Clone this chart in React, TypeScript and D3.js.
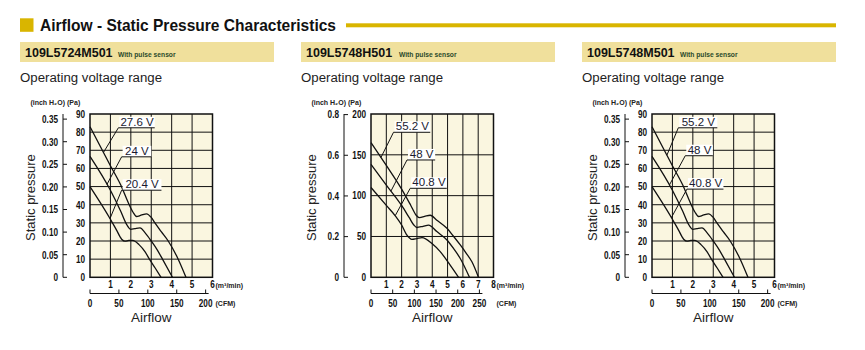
import * as d3 from 'd3'

// Pa per inch of water
const PA_PER_INCH = 249.09
// CFM per m³/min
const CFM_PER_M3 = 35.3147

const models = ['109L5724M501', '109L5748H501', '109L5748M501']
const voltagesA = ['27.6 V', '24 V', '20.4 V']
const voltagesB = ['55.2 V', '48 V', '40.8 V']

// [airflow m³/min, static pressure Pa]
const curve5724Hi: [number, number][] = [[0, 83], [1, 61.5], [1.5, 51], [1.88, 41], [2.1, 36], [2.28, 33.5], [2.5, 34.2], [2.77, 35], [3.0, 33], [3.18, 30], [3.5, 25], [3.83, 20], [4.32, 10], [4.7, 0]]
const curve5724Mid: [number, number][] = [[0, 66.7], [1, 48], [1.5, 36.5], [1.8, 29], [2.0, 26.4], [2.2, 26.8], [2.45, 27.2], [2.7, 24.5], [3.0, 20], [3.3, 15], [3.55, 10], [4.04, 0]]
const curve5724Lo: [number, number][] = [[0, 50], [1, 32], [1.3, 26], [1.55, 21], [1.71, 19.9], [1.9, 20.3], [2.09, 20.4], [2.4, 18], [2.7, 14], [2.91, 10], [3.2, 5], [3.48, 0]]

const curveH501Hi: [number, number][] = [[0, 165], [1, 137], [2, 108], [2.6, 88], [2.95, 76], [3.17, 73], [3.5, 74.5], [3.87, 76], [4.3, 70], [4.96, 60], [5.4, 50], [5.83, 39.6], [6.2, 30], [6.59, 19], [7.02, 0]]
const curveH501Mid: [number, number][] = [[0, 138.4], [1, 113], [2, 88], [2.5, 73], [2.8, 64], [3.0, 61], [3.4, 62.5], [3.76, 64], [4.3, 56], [4.96, 45.7], [5.4, 35], [5.83, 23], [6.43, 0]]
const curveH501Lo: [number, number][] = [[0, 110], [1, 88], [1.6, 75], [2.0, 64], [2.3, 53], [2.5, 48.5], [2.67, 46.5], [3.0, 47.5], [3.33, 48.6], [4.0, 41], [4.52, 31.4], [5.17, 15], [5.72, 0]]

const curveM501Hi: [number, number][] = [[0, 83], [1, 61.5], [1.5, 51], [1.88, 41], [2.1, 36], [2.28, 33.5], [2.5, 34.2], [2.77, 35], [3.0, 33], [3.18, 30], [3.5, 25], [3.83, 20], [4.32, 10], [4.7, 0]]
const curveM501Mid: [number, number][] = [[0, 66.7], [1, 48], [1.5, 36.5], [1.8, 29], [2.0, 26.4], [2.2, 26.8], [2.45, 27.2], [2.7, 24.5], [3.0, 20], [3.3, 15], [3.55, 10], [4.04, 0]]
const curveM501Lo: [number, number][] = [[0, 50], [1, 32], [1.3, 26], [1.55, 21], [1.71, 19.9], [1.9, 20.3], [2.09, 20.4], [2.4, 18], [2.7, 14], [2.91, 10], [3.2, 5], [3.48, 0]]

const flowTicksA = [1, 2, 3, 4, 5, 6]
const flowTicksB = [1, 2, 3, 4, 5, 6, 7, 8]
const paTicksA = [0, 10, 20, 30, 40, 50, 60, 70, 80, 90]
const paTicksB = [0, 50, 100, 150, 200]
const inchTicksA = ['0', '0.05', '0.10', '0.15', '0.20', '0.25', '0.30', '0.35']
const inchTicksB = ['0', '0.2', '0.4', '0.6', '0.8']
const cfmTicksA = [0, 50, 100, 150, 200]
const cfmTicksB = [0, 50, 100, 150, 200, 250]

// callout placement: underline start, underline end (m³/min), pressure of underline (Pa), leader target (m³/min)
const calloutsA = [[1.39, 3.17, 82.4, 0.66], [1.55, 3.0, 66.4, 0.83], [1.55, 3.5, 48, 0.98]]
const calloutsB = [[1.47, 3.87, 177.6, 0.65], [2.35, 4.19, 143.7, 1.3], [2.56, 4.95, 109, 1.58]]
const calloutsC = [[1.29, 3.2, 82.4, 0.73], [1.63, 2.98, 67, 0.85], [1.71, 3.5, 48.6, 0.95]]

const charts = [
  { model: models[0], left: 20, flowMax: 6, paMax: 90, flowTicks: flowTicksA, paTicks: paTicksA, inchTicks: inchTicksA, cfmTicks: cfmTicksA, curves: [curve5724Hi, curve5724Mid, curve5724Lo], voltages: voltagesA, callouts: calloutsA },
  { model: models[1], left: 301, flowMax: 8, paMax: 200, flowTicks: flowTicksB, paTicks: paTicksB, inchTicks: inchTicksB, cfmTicks: cfmTicksB, curves: [curveH501Hi, curveH501Mid, curveH501Lo], voltages: voltagesB, callouts: calloutsB },
  { model: models[2], left: 582, flowMax: 6, paMax: 90, flowTicks: flowTicksA, paTicks: paTicksA, inchTicks: inchTicksA, cfmTicks: cfmTicksA, curves: [curveM501Hi, curveM501Mid, curveM501Lo], voltages: voltagesB, callouts: calloutsC },
]

const PLOT_TOP = 114
const PLOT_BOTTOM = 277.3
const PLOT_W = 122.5
const GOLD = '#d9b500'
const BANNER = '#f0e09c'
const CREAM = '#faf6e0'

const interp = (pts: [number, number][], f: number) => {
  for (let i = 1; i < pts.length; i++) {
    if (f <= pts[i][0]) {
      const [a, pa] = pts[i - 1]
      const [b, pb] = pts[i]
      return pa + (pb - pa) * (f - a) / (b - a)
    }
  }
  return pts[pts.length - 1][1]
}

// narrow tick label (condensed look)
const Cond = ({ x, y, anchor = 'middle', size = 10.5, children }: any) => (
  <text transform={`translate(${x},${y}) scale(0.78,1)`} textAnchor={anchor} fontSize={size} fontWeight="bold" fill="#111">
    {children}
  </text>
)

const Chart = ({ cfg }: any) => {
  const x0 = cfg.left + 70
  const x1 = x0 + PLOT_W
  const x = d3.scaleLinear().domain([0, cfg.flowMax]).range([x0, x1])
  const y = d3.scaleLinear().domain([0, cfg.paMax]).range([PLOT_BOTTOM, PLOT_TOP])
  const yInch = d3.scaleLinear().domain([0, cfg.paMax / PA_PER_INCH]).range([PLOT_BOTTOM, PLOT_TOP])
  const xCfm = d3.scaleLinear().domain([0, cfg.flowMax * CFM_PER_M3]).range([x0, x1])
  const line = d3.line<[number, number]>()
    .x(d => x(d[0]))
    .y(d => y(d[1]))
    .curve(d3.curveMonotoneX)

  const inchAxisX = x0 - 27
  const cfmY = 293.5
  const lastCfm = cfg.cfmTicks[cfg.cfmTicks.length - 1]

  return (
    <g>
      {/* banner */}
      <rect x={cfg.left} y={42} width={254} height={20} fill={BANNER} />
      <text x={cfg.left + 5} y={56.7} fontSize={12.5} fontWeight="bold" fill="#111">{cfg.model}</text>
      <text x={cfg.left + 98} y={56.5} fontSize={6.7} fontWeight="bold" fill="#2b4a2b">With pulse sensor</text>
      <text x={cfg.left} y={81.5} fontSize={12.5} fill="#222" textLength={142} lengthAdjust="spacingAndGlyphs">Operating voltage range</text>

      {/* plot area */}
      <rect x={x0} y={PLOT_TOP} width={PLOT_W} height={PLOT_BOTTOM - PLOT_TOP} fill={CREAM} />
      {cfg.flowTicks.slice(0, -1).map((f: number) => (
        <line key={'v' + f} x1={x(f)} x2={x(f)} y1={PLOT_TOP} y2={PLOT_BOTTOM} stroke="#111" strokeWidth={1} />
      ))}
      {cfg.paTicks.slice(1, -1).map((p: number) => (
        <line key={'h' + p} x1={x0} x2={x1} y1={y(p)} y2={y(p)} stroke="#111" strokeWidth={1} />
      ))}
      {cfg.curves.map((c: [number, number][], i: number) => (
        <path key={'c' + i} d={line(c) || ''} fill="none" stroke="#111" strokeWidth={1.3} />
      ))}

      {/* voltage callouts */}
      {cfg.callouts.map((co: number[], i: number) => {
        const [fs, fe, p, ft] = co
        const ux0 = x(fs)
        const ux1 = x(fe)
        const uy = y(p)
        const tx = x(ft)
        const ty = y(interp(cfg.curves[i], ft))
        return (
          <g key={'l' + i}>
            <rect x={ux0 + 1} y={uy - 11} width={ux1 - ux0 - 1} height={11} fill="#fff" />
            <line x1={ux0} x2={ux1} y1={uy} y2={uy} stroke="#111" strokeWidth={1} />
            <line x1={ux0} x2={tx} y1={uy} y2={ty} stroke="#111" strokeWidth={1} />
            <text x={(ux0 + ux1) / 2 + 0.5} y={uy - 2} textAnchor="middle" fontSize={11.5} fill="#1a1a30">{cfg.voltages[i]}</text>
          </g>
        )
      })}

      <rect x={x0} y={PLOT_TOP} width={PLOT_W} height={PLOT_BOTTOM - PLOT_TOP} fill="none" stroke="#111" strokeWidth={1.5} />

      {/* Pa axis labels */}
      {cfg.paTicks.map((p: number) => (
        <Cond key={'pa' + p} x={x0 - 5} y={y(p) + 3.8} anchor="end">{p}</Cond>
      ))}
      <text x={x0 - 23} y={105} fontSize={7} fontWeight="bold" fill="#222">(Pa)</text>

      {/* inch H2O axis */}
      <line x1={inchAxisX} x2={inchAxisX} y1={PLOT_BOTTOM} y2={PLOT_TOP} stroke="#111" strokeWidth={1} />
      {cfg.inchTicks.map((t: string) => (
        <g key={'in' + t}>
          <line x1={inchAxisX} x2={inchAxisX + 4} y1={yInch(+t)} y2={yInch(+t)} stroke="#111" strokeWidth={1} />
          <Cond x={x0 - 32} y={yInch(+t) + 3.8} anchor="end">{t}</Cond>
        </g>
      ))}
      <text x={x0 - 25} y={105} textAnchor="end" fontSize={7} fontWeight="bold" fill="#222">(inch H₂O)</text>
      <text transform={`translate(${x0 - 55},${(PLOT_TOP + PLOT_BOTTOM) / 2 + 2}) rotate(-90)`} textAnchor="middle" fontSize={13} fill="#222">Static pressure</text>

      {/* m³/min labels */}
      {cfg.flowTicks.map((f: number) => (
        <Cond key={'f' + f} x={x(f)} y={288}>{f}</Cond>
      ))}
      <text x={x1 + 3} y={288} fontSize={7} fontWeight="bold" fill="#222">(m³/min)</text>

      {/* CFM axis */}
      <line x1={x0} x2={xCfm(lastCfm) + 3} y1={cfmY} y2={cfmY} stroke="#111" strokeWidth={1} />
      {cfg.cfmTicks.map((c: number) => (
        <g key={'cfm' + c}>
          <line x1={xCfm(c)} x2={xCfm(c)} y1={cfmY} y2={cfmY - 4} stroke="#111" strokeWidth={1} />
          <Cond x={xCfm(c)} y={306.5}>{c}</Cond>
        </g>
      ))}
      <text x={x1 + 3} y={306} fontSize={7} fontWeight="bold" fill="#222">(CFM)</text>
      <text x={(x0 + x1) / 2} y={321.7} textAnchor="middle" fontSize={13.5} fill="#222">Airflow</text>
    </g>
  )
}

export default function App() {
  return (
    <svg width={865} height={350} style={{ position: 'absolute', left: 0, top: 0, display: 'block', background: '#fff' }}
      fontFamily="'Liberation Sans', Arial, Helvetica, sans-serif">
      <rect x={20} y={18.3} width={13.5} height={13.5} fill={GOLD} />
      <text x={40} y={30.8} fontSize={16.5} fontWeight="bold" fill="#111" textLength={296} lengthAdjust="spacingAndGlyphs">
        Airflow - Static Pressure Characteristics
      </text>
      <rect x={346} y={23.3} width={490} height={4} fill={GOLD} />
      {charts.map(cfg => <Chart key={cfg.model} cfg={cfg} />)}
    </svg>
  )
}
